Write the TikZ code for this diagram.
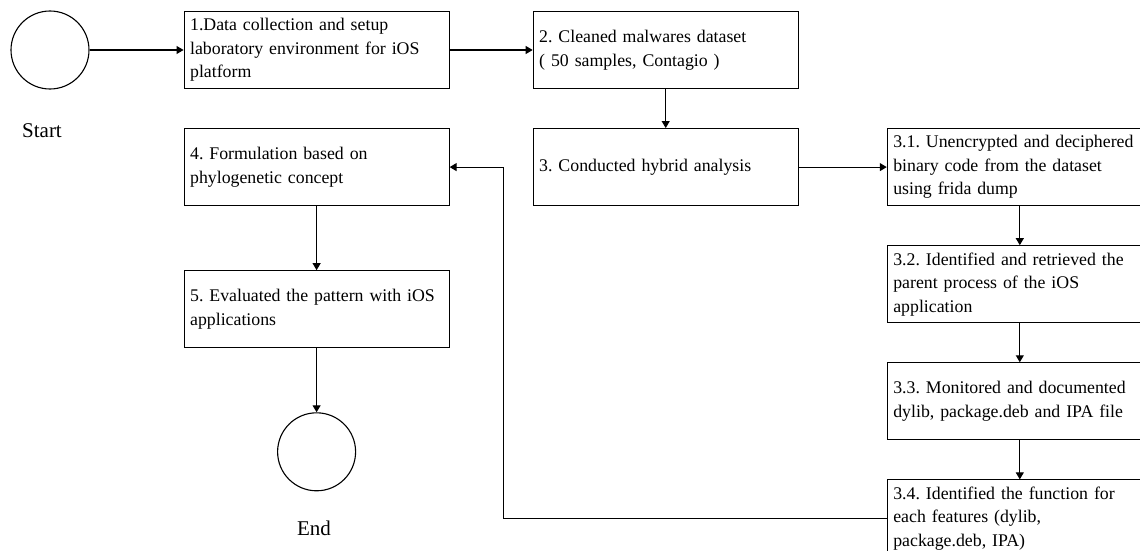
\documentclass[tikz,border=0pt]{standalone}
\usepackage{fontspec}
\setmainfont{Liberation Serif}
\usetikzlibrary{arrows.meta, positioning}

\begin{document}
\begin{tikzpicture}[
    x=1pt, y=1pt,
    node distance=39pt and 83pt,
    stepbox/.style={draw, line width=1.1pt, rectangle, minimum width=265pt, minimum height=77pt, text width=253pt, inner xsep=6pt, inner ysep=2pt, align=left, font=\fontsize{17.8}{23.5}\selectfont\frenchspacing},
    terminal/.style={draw, line width=1.1pt, circle, minimum size=78pt, inner sep=0pt},
    caption/.style={font=\fontsize{21}{25}\selectfont},
    arrow/.style={-{Triangle[length=7pt, width=8pt]}, line width=1.1pt}
]
    \useasboundingbox (0,0) rectangle (1140,-551);

    % Start and main row
    \node[terminal] (start) at (50,-50) {};
    \node[caption] (start_lbl) at (42,-131) {Start};

    \node[stepbox, right=94pt of start] (collect) {
        1.Data collection and setup\\
        laboratory environment for iOS\\
        platform
    };

    \node[stepbox, right=83pt of collect] (dataset) {
        2. Cleaned malwares dataset\\
        ( 50 samples, Contagio )
    };

    \node[stepbox, below=of dataset] (hybrid) {
        3. Conducted hybrid analysis
    };

    % Hybrid analysis steps
    \node[stepbox, right=88pt of hybrid] (decrypt) {
        3.1. Unencrypted and deciphered\\
        binary code from the dataset\\
        using frida dump
    };

    \node[stepbox, below=of decrypt] (parent) {
        3.2. Identified and retrieved the\\
        parent process of the iOS\\
        application
    };

    \node[stepbox, below=of parent] (monitor) {
        3.3. Monitored and documented\\
        dylib, package.deb and IPA file
    };

    \node[stepbox, below=39pt of monitor] (features) {
        3.4. Identified the function for\\
        each features (dylib,\\
        package.deb, IPA)
    };

    % Formulation and end
    \node[stepbox, below=of collect] (formula) {
        4. Formulation based on\\
        phylogenetic concept
    };

    \node[stepbox, below=64pt of formula] (evaluate) {
        5. Evaluated the pattern with iOS\\
        applications
    };

    \node[terminal, below=64pt of evaluate] (finish) {};
    \node[caption] (finish_lbl) at (314,-528) {End};

    % Connectors
    \draw[arrow] (start) -- (collect);
    \draw[arrow] (collect) -- (dataset);
    \draw[arrow] (dataset) -- (hybrid);
    \draw[arrow] (hybrid) -- (decrypt);
    \draw[arrow] (decrypt) -- (parent);
    \draw[arrow] (parent) -- (monitor);
    \draw[arrow] (monitor) -- (features);
    \draw[arrow] (features.west) -- ++(-383,0) |- (formula.east);
    \draw[arrow] (formula) -- (evaluate);
    \draw[arrow] (evaluate) -- (finish);
\end{tikzpicture}
\end{document}
